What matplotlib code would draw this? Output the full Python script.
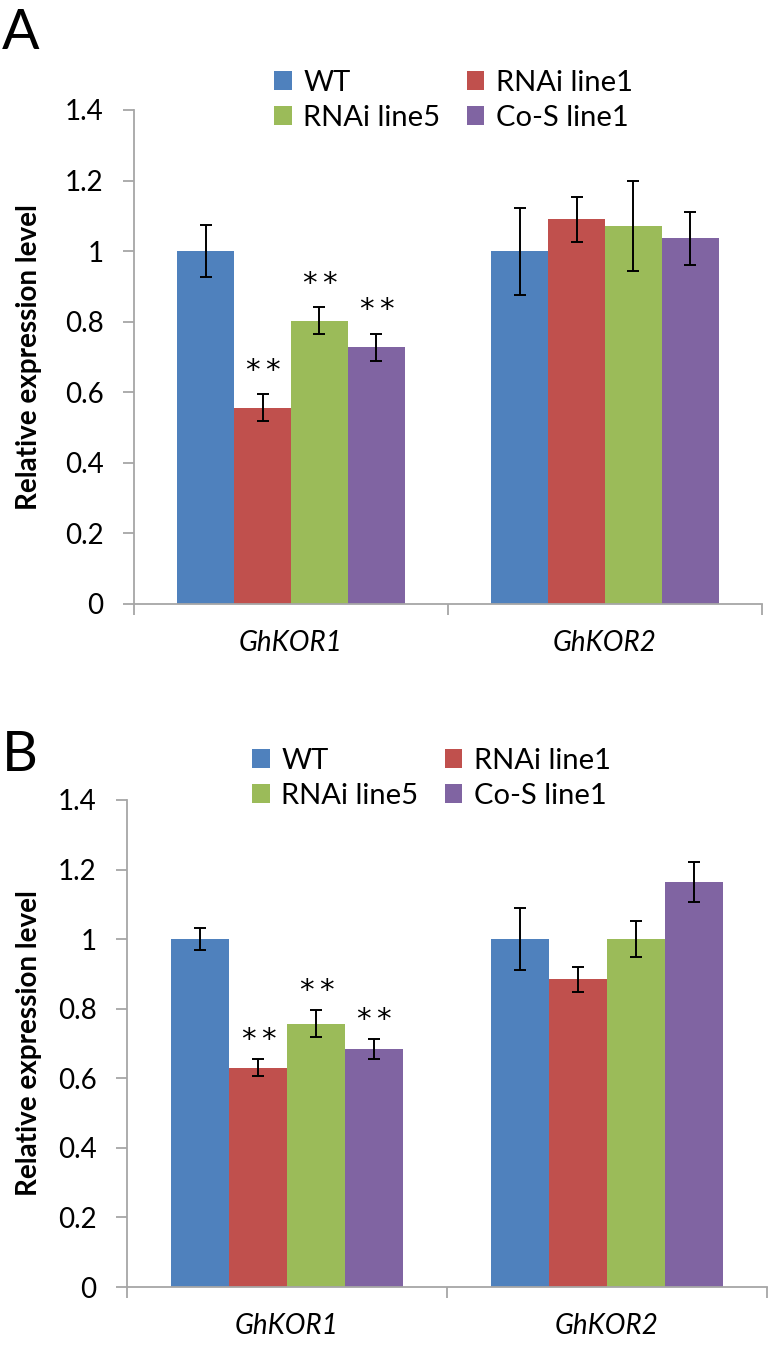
import matplotlib
matplotlib.use("Agg")
import matplotlib.pyplot as plt
from matplotlib.patches import Patch
import numpy as np

plt.rcParams['font.family'] = ['Lato', 'DejaVu Sans']

genes = ['GhKOR1', 'GhKOR2']
lines = ['WT', 'RNAi line1', 'RNAi line5', 'Co-S line1']
colors = ['#4F81BD', '#C0504D', '#9BBB59', '#8064A2']
yticks = [0, 0.2, 0.4, 0.6, 0.8, 1, 1.2, 1.4]
ytick_labels = ['0', '0.2', '0.4', '0.6', '0.8', '1', '1.2', '1.4']

# panel A, rows = lines, cols = genes
a_vals = [[1.0, 1.0], [0.556, 1.090], [0.803, 1.072], [0.727, 1.036]]
a_errs = [[0.073, 0.123], [0.038, 0.064], [0.038, 0.127], [0.039, 0.076]]
a_sig = [[False, False], [True, False], [True, False], [True, False]]

# panel B
b_vals = [[1.0, 1.0], [0.631, 0.884], [0.757, 1.001], [0.684, 1.165]]
b_errs = [[0.031, 0.090], [0.024, 0.036], [0.038, 0.052], [0.028, 0.058]]
b_sig = [[False, False], [True, False], [True, False], [True, False]]

W, H = 770, 1347
fig = plt.figure(figsize=(W / 100, H / 100), dpi=100)


def draw_panel(rect, vals, errs, sig, letter, letter_xy, legend_xy, ylab_x, star_dy):
    ax = fig.add_axes(rect)
    x = np.arange(len(genes)) + 0.5
    bw = 0.181
    for i, name in enumerate(lines):
        xs = x + (i - 1.5) * bw
        ax.bar(xs, vals[i], width=bw, color=colors[i], linewidth=0, zorder=2)
        ax.errorbar(xs, vals[i], yerr=errs[i], fmt='none', ecolor='black',
                    elinewidth=1.4, capsize=4.3, capthick=1.4, zorder=3)
        for j in range(len(genes)):
            if sig[i][j]:
                # two asterisks, drawn apart like the original
                for dx in (-7.2, 7.2):
                    ax.annotate('*', (xs[j], vals[i][j] + errs[i][j]),
                                xytext=(dx, star_dy), textcoords='offset points',
                                ha='center', va='center', fontsize=21,
                                family='DejaVu Sans')

    ax.set_xlim(0, 2)
    ax.set_ylim(0, 1.4)
    ax.set_yticks(yticks)
    ax.set_yticklabels(ytick_labels, fontsize=20)
    ax.set_xticks([0, 1, 2])
    ax.set_xticklabels([])
    ax.set_xticks(x, minor=True)
    ax.set_xticklabels(genes, minor=True, fontsize=20, style='italic')
    ax.tick_params(axis='x', which='major', length=8, width=1.3, color='#A6A6A6')
    ax.tick_params(axis='x', which='minor', length=0, pad=19)
    ax.tick_params(axis='y', length=8, width=1.3, color='#A6A6A6', pad=14)
    for s in ['top', 'right']:
        ax.spines[s].set_visible(False)
    for s in ['left', 'bottom']:
        ax.spines[s].set_color('#A6A6A6')
        ax.spines[s].set_linewidth(1.3)

    ax.set_ylabel('Relative expression level', fontsize=20, fontweight='bold')
    ax.yaxis.set_label_coords(ylab_x, 0.5)

    # legend fills column-wise, so reorder to get WT, RNAi line1 on the first row
    order = [0, 2, 1, 3]
    handles = [Patch(facecolor=colors[k], edgecolor='none') for k in order]
    labels = [lines[k] for k in order]
    fig.legend(handles, labels, loc='upper left', bbox_to_anchor=legend_xy,
               ncol=2, frameon=False, fontsize=21, handlelength=0.6,
               handleheight=0.6, handletextpad=0.4, columnspacing=0.9,
               labelspacing=0.3, borderpad=0, borderaxespad=0)
    fig.text(letter_xy[0], letter_xy[1], letter, fontsize=40, va='top', ha='left')
    return ax


draw_panel([134 / W, 1 - 604 / H, 628 / W, 494 / H], a_vals, a_errs, a_sig,
           'A', (2 / W, 1 - 8 / H), (274 / W, 1 - 70 / H), -0.147, 17)
draw_panel([127 / W, 1 - 1287 / H, 640 / W, 487 / H], b_vals, b_errs, b_sig,
           'B', (2 / W, 1 - 730 / H), (252 / W, 1 - 748 / H), -0.133, 14)

fig.savefig('out.png', dpi=100)
